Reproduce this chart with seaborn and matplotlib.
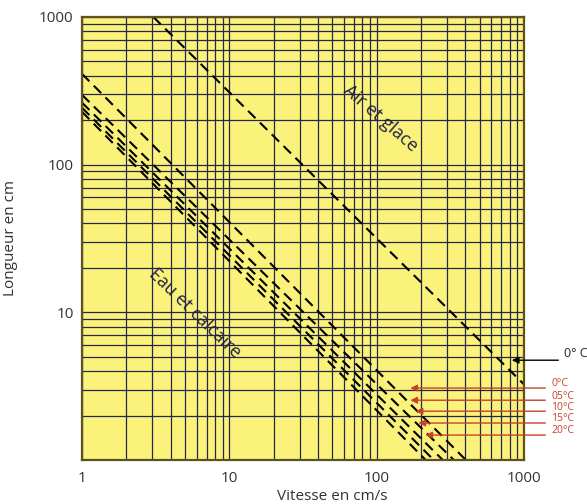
import numpy as np
import pandas as pd
import matplotlib
matplotlib.use("Agg")
import matplotlib.pyplot as plt
import seaborn as sns

# ==================== données lues sur l'abaque ====================
# droite "Air et glace" : deux extrémités (vitesse, longueur)
air_v = [3.05, 1000]
air_l = [1000, 3.25]

# droites "Eau et calcaire" : longueur à v=1 et vitesse à L=1
eau_l_at_v1 = [412, 297, 263, 243, 228]
eau_v_at_l1 = [403, 334, 281, 244, 215]

# repères de température (rouge)
temp_labels = ["0°C", "05°C", "10°C", "15°C", "20°C"]
temp_l = [3.07, 2.54, 2.14, 1.78, 1.475]
temp_head_v = [162, 162, 176, 184, 205]

# repère de l'air
air_temp_label = "0° C"
air_temp_l = 4.74
air_temp_head_v = 791

x_ticks = [1, 10, 100, 1000]
y_ticks = [10, 100, 1000]

# ==================== tableau pour seaborn ====================
rows = []
rows += [{"v": v, "L": l, "ligne": "air"} for v, l in zip(air_v, air_l)]
for i, (l0, v0) in enumerate(zip(eau_l_at_v1, eau_v_at_l1)):
    rows.append({"v": 1, "L": l0, "ligne": f"eau{i}"})
    rows.append({"v": v0, "L": 1, "ligne": f"eau{i}"})
df = pd.DataFrame(rows)

# ==================== figure ====================
sns.set_style("white")
plt.rcParams["font.family"] = ["Open Sans", "DejaVu Sans"]

fig = plt.figure(figsize=(5.87, 5.04), dpi=100)
ax = fig.add_axes([0.1397, 0.0873, 0.753, 0.879])
ax.set_facecolor("#faf27a")

ax.set_xscale("log")
ax.set_yscale("log")

sns.lineplot(data=df, x="v", y="L", units="ligne", estimator=None, sort=False,
             color="black", linewidth=1.5, ax=ax, legend=False)
for line in ax.get_lines():
    line.set_dashes((5, 3))

ax.set_xlim(1, 1000)
ax.set_ylim(1, 1000)
ax.grid(which="both", color="#26264a", linewidth=0.9)
ax.set_axisbelow(True)

ax.set_xticks(x_ticks)
ax.set_xticklabels([str(t) for t in x_ticks])
ax.set_yticks(y_ticks)
ax.set_yticklabels([str(t) for t in y_ticks])
ax.minorticks_on()
ax.xaxis.set_minor_formatter(plt.NullFormatter())
ax.yaxis.set_minor_formatter(plt.NullFormatter())
ax.tick_params(which="both", length=0)
ax.tick_params(axis="x", pad=8, labelsize=11, colors="#333333")
ax.tick_params(axis="y", pad=6, labelsize=11, colors="#333333")

for sp in ax.spines.values():
    sp.set_color("#5e5020")
    sp.set_linewidth(1.6)

ax.set_xlabel("Vitesse en cm/s", fontsize=11, color="#333333")
ax.set_ylabel("Longueur en cm", fontsize=11, color="#333333")
ax.xaxis.set_label_coords(0.566, -0.066)
ax.yaxis.set_label_coords(-0.145, 0.5)

# textes dans le graphique
ax.text(106, 205, "Air et glace", rotation=-41, ha="center", va="center",
        fontsize=13, color="#222244")
ax.text(5.87, 9.85, "Eau et calcaire", rotation=-44, ha="center", va="center",
        fontsize=13, color="#222244")

# repère 0° C pour l'air
ax.annotate("", xy=(air_temp_head_v, air_temp_l), xytext=(1785, air_temp_l),
            arrowprops=dict(arrowstyle="-|>", color="black", lw=1, mutation_scale=10),
            annotation_clip=False)
ax.text(1872, air_temp_l, air_temp_label, ha="left", va="bottom",
        fontsize=9, color="#222222", clip_on=False)

# repères de température pour l'eau
red = "#c8412a"
for lab, l, hv in zip(temp_labels, temp_l, temp_head_v):
    ax.annotate("", xy=(hv, l), xytext=(1457, l),
                arrowprops=dict(arrowstyle="-|>", color=red, lw=1, mutation_scale=10),
                annotation_clip=False)
    ax.annotate(lab, xy=(1527, l), xytext=(0, 3), textcoords="offset points",
                ha="left", va="center", fontsize=7.5, color=red,
                annotation_clip=False)

fig.savefig("out.png", dpi=100)
